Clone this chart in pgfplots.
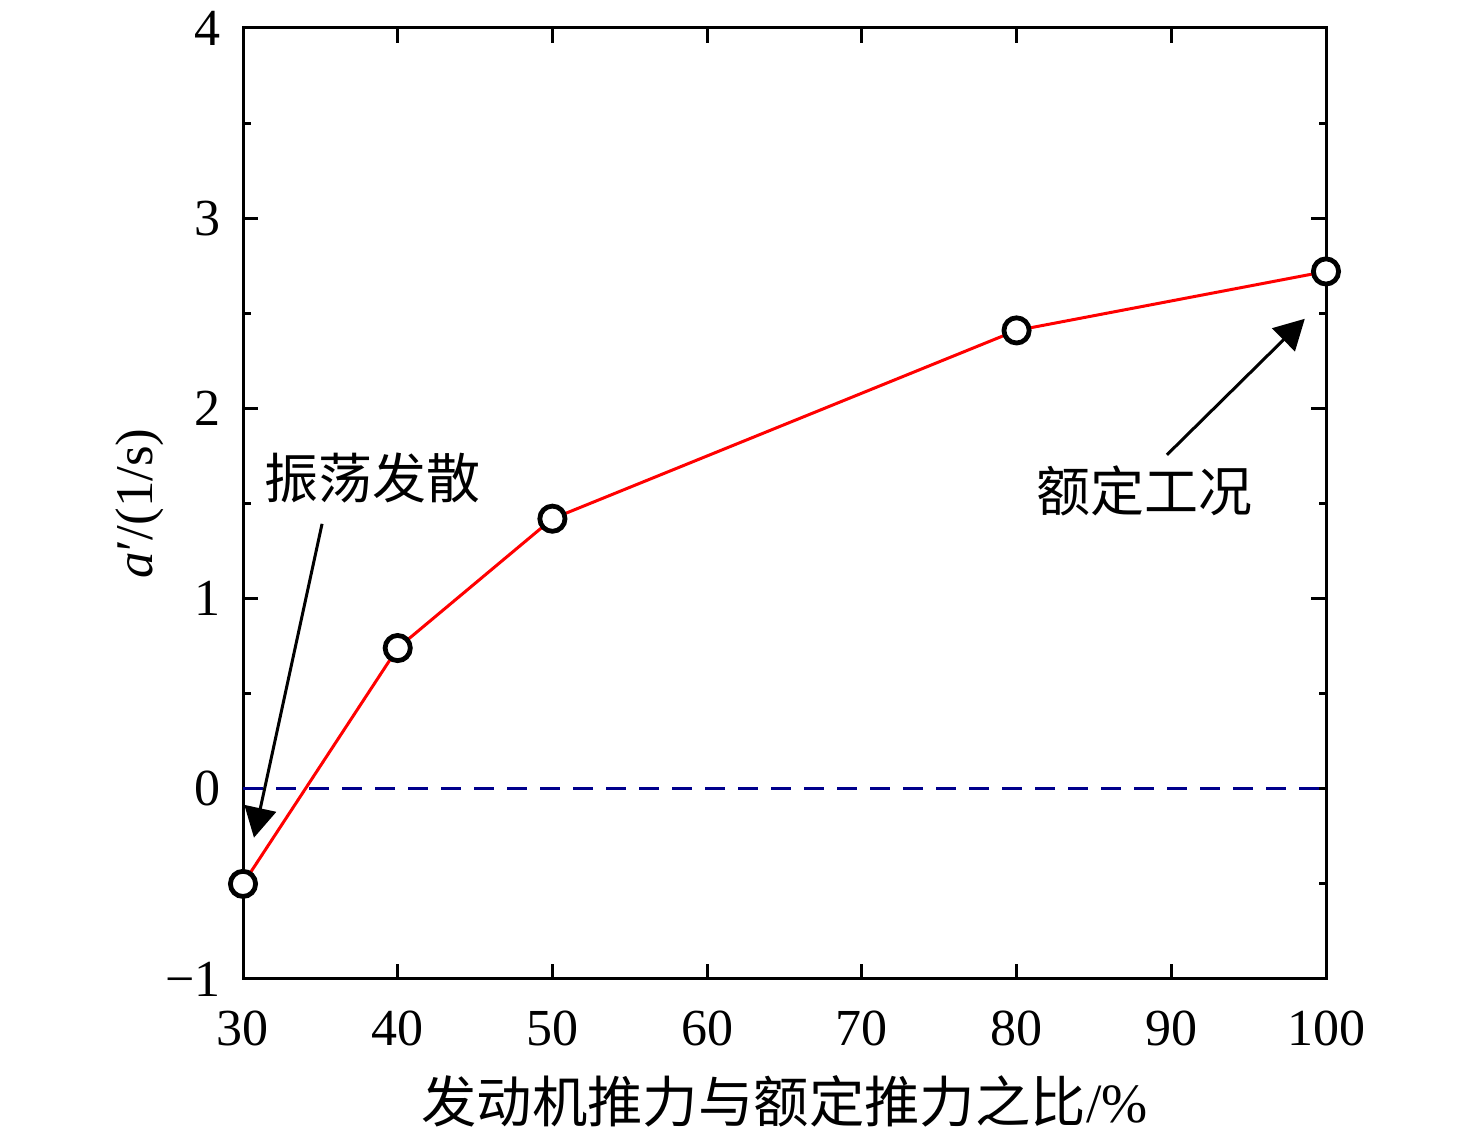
\documentclass[border=0pt]{standalone}
\usepackage{fontspec}
\setmainfont{Liberation Serif}
\newfontfamily\cjk{Noto Sans CJK SC}
\usepackage{pgfplots}
\pgfplotsset{compat=1.18}
\usetikzlibrary{arrows.meta}
\definecolor{navyline}{RGB}{0,0,140}
\begin{document}
\begin{tikzpicture}
\useasboundingbox (-121.5pt,-79.5pt) rectangle (616.5pt,489.5pt);
\begin{axis}[
  at={(0pt,0pt)}, anchor=south west,
  scale only axis, width=541.5pt, height=475.5pt,
  xmin=30, xmax=100, ymin=-1, ymax=4,
  line width=1.5pt,
  xtick={30,40,50,60,70,80,90,100},
  xticklabels={30,40,50,60,70,80,90,100},
  ytick={-1,0,1,2,3,4},
  yticklabels={−1,0,1,2,3,4},
  minor ytick={-0.5,0.5,1.5,2.5,3.5},
  tick align=inside,
  major tick length=7.5pt,
  minor tick length=3.75pt,
  axis line style={line width=1.5pt},
  tick style={black, line width=1.5pt},
  tick label style={font=\fontsize{26}{30}\selectfont},
  xticklabel style={yshift=-12pt},
  yticklabel style={xshift=-7pt},
  xlabel={\cjk 发动机推力与额定推力之比\rmfamily/\%},
  xlabel style={at={(axis description cs:0.5,0)}, anchor=center, yshift=-61pt, font=\fontsize{27.7}{32}\selectfont},
  ylabel={\textit{a}′/(1/s)},
  ylabel style={at={(axis description cs:0,0.5)}, anchor=center, yshift=51.5pt, font=\fontsize{26.5}{30}\selectfont},
  clip=false,
]
\addplot[navyline, line width=1.5pt, dash pattern=on 10pt off 6.5pt] coordinates {(30,0) (100,0)};
\addplot[red, line width=1.5pt, mark=*, mark size=6.3pt,
  mark options={draw=black, fill=white, line width=2.4pt, solid}]
  coordinates {(30,-0.5) (40,0.74) (50,1.42) (80,2.41) (100,2.72)};
\draw[black, line width=1.5pt, -{Triangle[length=15pt,width=16pt]}]
  (axis cs:35.11,1.393) -- (axis cs:30.71,-0.257);
\draw[black, line width=1.5pt, -{Triangle[length=15pt,width=16pt]}]
  (axis cs:89.72,1.756) -- (axis cs:98.63,2.471);
\node[font=\cjk\fontsize{27}{32}\selectfont] at (axis cs:38.40,1.635) {振荡发散};
\node[font=\cjk\fontsize{27}{32}\selectfont] at (axis cs:88.26,1.567) {额定工况};
\end{axis}
\end{tikzpicture}
\end{document}
